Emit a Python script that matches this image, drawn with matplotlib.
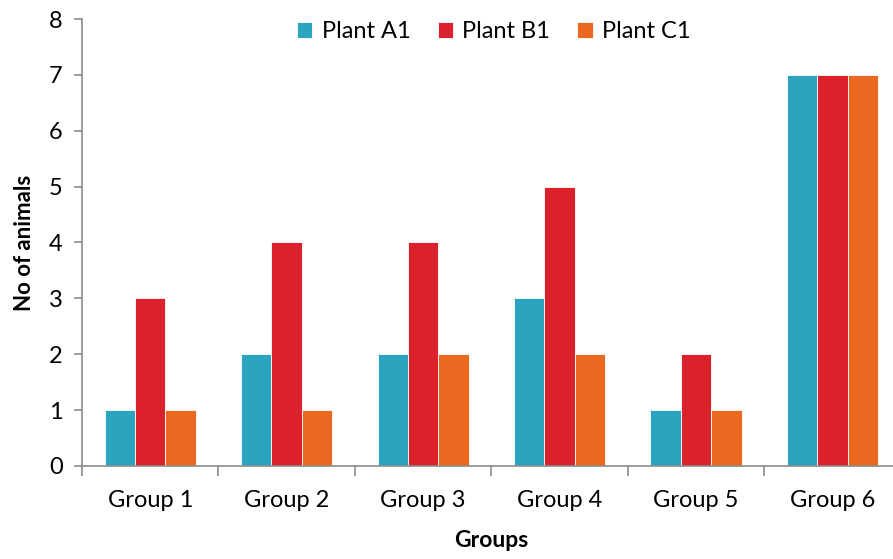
import matplotlib
matplotlib.use("Agg")
import matplotlib.pyplot as plt
import numpy as np

groups = ["Group 1", "Group 2", "Group 3", "Group 4", "Group 5", "Group 6"]
plant_a1 = [1, 2, 2, 3, 1, 7]
plant_b1 = [3, 4, 4, 5, 2, 7]
plant_c1 = [1, 1, 2, 2, 1, 7]
series_names = ["Plant A1", "Plant B1", "Plant C1"]
colors = ["#2CA3BF", "#DB212C", "#EA6820"]

plt.rcParams["font.family"] = ["Lato", "DejaVu Sans"]

fig = plt.figure(figsize=(8.93, 5.59), dpi=100)
ax = fig.add_axes([0.0918, 0.1664, 0.917, 0.7996])

x = np.arange(len(groups))
w = 0.223
for i, (vals, name, c) in enumerate(zip([plant_a1, plant_b1, plant_c1], series_names, colors)):
    ax.bar(x + (i - 1) * w, vals, width=w, color=c, label=name,
           edgecolor="white", linewidth=0.6)

ax.set_xlim(-0.5, len(groups) - 0.5)
ax.set_ylim(0, 8)
ax.set_yticks(range(0, 9))
ax.set_xticks(x)
ax.set_xticklabels(groups)
ax.set_xticks(np.arange(-0.5, len(groups)), minor=True)
ax.tick_params(axis="x", which="major", length=0, pad=17, labelsize=17)
ax.tick_params(axis="x", which="minor", length=7, width=1.2, color="#8C8C8C", direction="out")
ax.tick_params(axis="y", length=6, width=1.2, color="#8C8C8C", labelsize=17, pad=8)

for s in ["top", "right"]:
    ax.spines[s].set_visible(False)
for s in ["left", "bottom"]:
    ax.spines[s].set_color("#8C8C8C")
    ax.spines[s].set_linewidth(1.2)

ax.set_ylabel("No of animals", fontsize=16, fontweight="bold", labelpad=10)
ax.set_xlabel("Groups", fontsize=16.5, fontweight="bold", labelpad=14)

ax.legend(loc="upper center", bbox_to_anchor=(0.503, 1.042), ncol=3, frameon=False,
          fontsize=17, handlelength=0.65, handleheight=0.65, handletextpad=0.4,
          columnspacing=1.15)

fig.savefig("out.png", dpi=100)
